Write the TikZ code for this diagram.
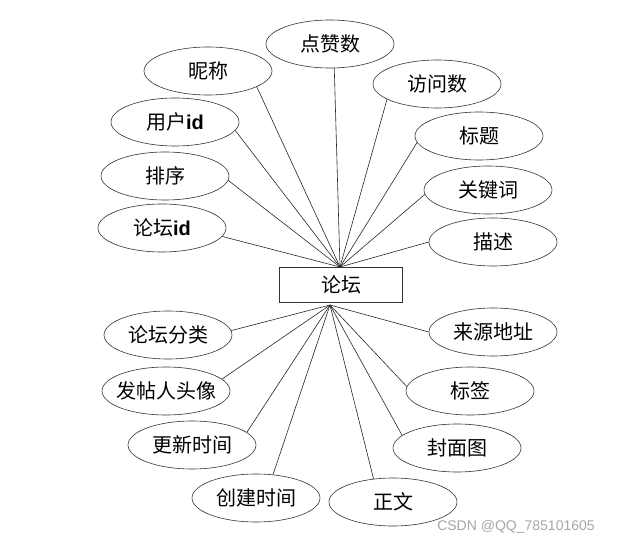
\documentclass[tikz,border=0pt]{standalone}
\usepackage{fontspec}
\setmainfont{Noto Sans CJK SC}
\newfontfamily\idfont{Liberation Sans}
\usetikzlibrary{shapes.geometric, positioning}

\begin{document}
\begin{tikzpicture}[x=1pt, y=-1pt,
    attr/.style={ellipse, draw=black!80, line width=0.6pt, fill=white, minimum width=128pt, minimum height=48pt, inner sep=0pt, font=\fontsize{20}{24}\selectfont},
    entity/.style={rectangle, draw=black!80, line width=0.6pt, fill=white, minimum width=123pt, minimum height=35pt, inner sep=0pt, font=\fontsize{20}{24}\selectfont},
    link/.style={black!85, line width=0.6pt}]
        \useasboundingbox (0,0) rectangle (629,545);

        % Entity
        \node[entity] (forum) at (341, 285) {论坛};
        \coordinate (ctop) at (340, 267);
        \coordinate (cbot) at (330, 305);

        % Attributes above
        \node[attr] (likes) at (330, 44) {点赞数};
        \node[attr] (nick) at (208, 71) {昵称};
        \node[attr] (uid) at (175, 122) {用户{\idfont\bfseries id}};
        \node[attr] (sort) at (165, 176) {排序};
        \node[attr] (fid) at (162, 228) {论坛{\idfont\bfseries id}};
        \node[attr] (visits) at (437, 84) {访问数};
        \node[attr] (title) at (479, 136) {标题};
        \node[attr] (kw) at (488, 190) {关键词};
        \node[attr] (desc) at (493, 242) {描述};

        % Attributes below
        \node[attr] (cat) at (168, 335) {论坛分类};
        \node[attr, inner xsep=-9pt] (avatar) at (166, 391) {发帖人头像};
        \node[attr] (updated) at (192, 445) {更新时间};
        \node[attr] (created) at (256, 498) {创建时间};
        \node[attr] (body) at (393, 502) {正文};
        \node[attr] (source) at (493, 332) {来源地址};
        \node[attr] (tag) at (470, 391) {标签};
        \node[attr] (cover) at (457, 448) {封面图};

        % Links (node/anchor angle)
        \foreach \a/\t in {likes/-80, nick/-18, uid/-8, sort/-4, fid/-8, visits/-163, title/-174, kw/-176, desc/180}
          \draw[link] (ctop) -- (\a.\t);
        \foreach \a/\t in {cat/4, avatar/12, updated/13, created/54, body/130, source/180, tag/176, cover/167}
          \draw[link] (cbot) -- (\a.\t);

        % Watermark
        \node[gray!70, font=\idfont\fontsize{14}{16}\selectfont] (mark) at (516, 527) {CSDN @QQ\_785101605};
    \end{tikzpicture}
\end{document}
